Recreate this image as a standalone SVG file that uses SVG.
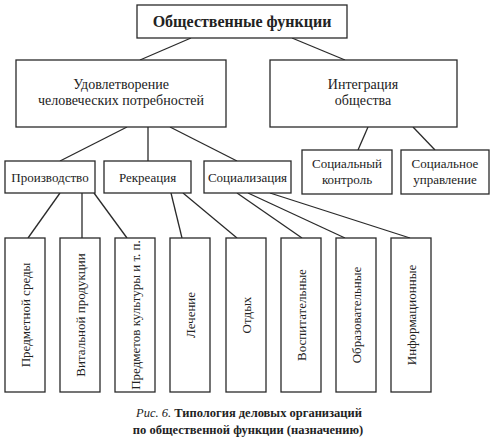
<svg xmlns="http://www.w3.org/2000/svg" width="495" height="439" viewBox="0 0 495 439" font-family="Liberation Serif, DejaVu Serif, serif">
<style>
.b{fill:#fff;stroke:#2a2a2a;stroke-width:1.3}
.c line{stroke:#2a2a2a;stroke-width:1.3}
text{font-family:'Liberation Serif','DejaVu Serif',serif;fill:#222;text-anchor:middle}
.t14{font-size:14px}
.t13{font-size:13px}
.v{font-size:13px;dominant-baseline:central}
.cap{font-size:12.5px;font-weight:bold}
</style>
<rect width="495" height="439" fill="#fff"/>
<g class="c">
<line x1="191" y1="38" x2="140" y2="60"/>
<line x1="292" y1="38" x2="345" y2="60"/>
<line x1="127" y1="127" x2="60" y2="161"/>
<line x1="148" y1="127" x2="148" y2="161"/>
<line x1="170" y1="127" x2="237" y2="161"/>
<line x1="368" y1="127" x2="358" y2="150"/>
<line x1="413" y1="127" x2="435" y2="150"/>
<line x1="60" y1="193" x2="28" y2="238"/>
<line x1="82" y1="193" x2="82" y2="238"/>
<line x1="94" y1="193" x2="127" y2="238"/>
<line x1="171" y1="193" x2="182" y2="238"/>
<line x1="183" y1="193" x2="237" y2="238"/>
<line x1="237" y1="193" x2="302" y2="238"/>
<line x1="248" y1="193" x2="345" y2="238"/>
<line x1="270" y1="193" x2="410" y2="238"/>
</g>
<g id="root"><rect class="b" x="137" y="5" width="210" height="33"/><text x="242" y="27" font-size="16" font-weight="bold">Общественные функции</text></g>
<g id="needs"><rect class="b" x="16" y="60" width="210" height="67"/><text class="t14" x="121" y="89">Удовлетворение</text><text class="t14" x="121" y="105">человеческих потребностей</text></g>
<g id="integr"><rect class="b" x="270" y="60" width="187" height="67"/><text class="t14" x="363" y="89">Интеграция</text><text class="t14" x="363" y="105">общества</text></g>
<g id="prod"><rect class="b" x="5" y="161" width="90" height="32"/><text class="t13" x="50" y="182">Производство</text></g>
<g id="rekr"><rect class="b" x="104" y="161" width="87" height="32"/><text class="t13" x="147.5" y="182">Рекреация</text></g>
<g id="soc"><rect class="b" x="204" y="161" width="87" height="32"/><text class="t13" x="247.5" y="182">Социализация</text></g>
<g id="sk"><rect class="b" x="302" y="150" width="90" height="44"/><text class="t13" x="347" y="168">Социальный</text><text class="t13" x="347" y="184">контроль</text></g>
<g id="su"><rect class="b" x="401" y="150" width="88" height="44"/><text class="t13" x="445" y="168">Социальное</text><text class="t13" x="445" y="184">управление</text></g>
<g id="n1"><rect class="b" x="5" y="238" width="40" height="154"/><text class="v" transform="translate(25,315) rotate(-90)">Предметной среды</text></g>
<g id="n2"><rect class="b" x="60" y="238" width="40" height="154"/><text class="v" transform="translate(80,315) rotate(-90)">Витальной продукции</text></g>
<g id="n3"><rect class="b" x="115" y="238" width="40" height="154"/><text class="v" transform="translate(135,315) rotate(-90)">Предметов культуры и т. п.</text></g>
<g id="n4"><rect class="b" x="170" y="238" width="40" height="154"/><text class="v" transform="translate(190,315) rotate(-90)">Лечение</text></g>
<g id="n5"><rect class="b" x="226" y="238" width="40" height="154"/><text class="v" transform="translate(246,315) rotate(-90)">Отдых</text></g>
<g id="n6"><rect class="b" x="281" y="238" width="40" height="154"/><text class="v" transform="translate(301,315) rotate(-90)">Воспитательные</text></g>
<g id="n7"><rect class="b" x="336" y="238" width="40" height="154"/><text class="v" transform="translate(356,315) rotate(-90)">Образовательные</text></g>
<g id="n8"><rect class="b" x="391" y="238" width="40" height="154"/><text class="v" transform="translate(411,315) rotate(-90)">Информационные</text></g>
<text class="cap" x="249" y="417"><tspan font-style="italic" font-weight="normal">Рис. 6.</tspan> Типология деловых организаций</text>
<text class="cap" x="248" y="434">по общественной функции (назначению)</text>
</svg>
